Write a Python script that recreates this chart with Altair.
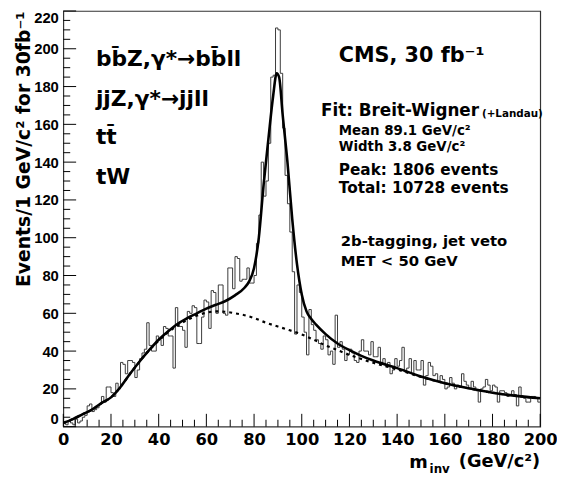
import altair as alt
import pandas as pd

# ---------------- data ----------------
edges = list(range(0, 201))  # 1 GeV bins, 0..200
counts = [
    2, 1, 3, 2, 1, 4, 2, 3, 5, 6,            # 0-9
    11, 12, 8, 9, 10, 12, 16, 13, 21, 21,    # 10-19
    18, 16, 23, 20, 34, 33, 28, 35, 35, 34,  # 20-29
    26, 30, 36, 39, 41, 55, 43, 40, 40, 48,  # 30-39
    46, 43, 53, 52, 48, 48, 31, 63, 53, 53,  # 40-49
    51, 42, 61, 60, 64, 63, 44, 44, 58, 67,  # 50-59
    66, 52, 72, 71, 60, 75, 75, 60, 59, 84,  # 60-69
    84, 73, 90, 89, 77, 78, 78, 84, 76, 76,  # 70-79
    80, 97, 112, 140, 122, 130, 150, 185, 186, 211,  # 80-89
    210, 187, 158, 133, 118, 103, 82, 49, 75, 71,    # 90-99
    58, 50, 38, 62, 54, 51, 46, 44, 41, 48,  # 100-109
    46, 38, 40, 33, 59, 42, 45, 41, 35, 38,  # 110-119
    41, 39, 35, 34, 40, 46, 40, 40, 38, 45,  # 120-129
    37, 37, 42, 34, 36, 32, 34, 28, 30, 36,  # 130-139
    32, 35, 42, 29, 31, 36, 28, 35, 30, 30,  # 140-149
    35, 22, 27, 34, 32, 27, 28, 24, 27, 25,  # 150-159
    20, 21, 26, 23, 20, 22, 21, 28, 24, 22,  # 160-169
    20, 24, 21, 19, 13, 20, 21, 25, 22, 19,  # 170-179
    22, 21, 13, 19, 19, 18, 16, 17, 19, 17,  # 180-189
    11, 21, 16, 15, 13, 13, 16, 16, 15, 13,  # 190-199
]

# fit: Breit-Wigner + Landau (solid)
fit_m = [0, 4, 8, 12, 16, 20, 24, 28, 32, 36, 40, 44, 48, 52, 56, 60, 64, 68,
         72, 76, 78, 80, 82, 84, 86, 88, 89.5, 90.5, 92, 94, 96, 98, 100, 102,
         104, 106, 110, 115, 120, 125, 130, 140, 150, 160, 170, 180, 190, 200]
fit_v = [2, 4, 6.5, 9, 12.5, 15.5, 21, 28, 34.5, 40.5, 46, 50.5, 54.5, 57.5, 60,
         62.5, 64.5, 66.5, 69.5, 73.5, 77, 84, 100, 128, 152, 175, 187, 185, 165,
         140, 110, 86, 70, 61, 57, 54, 49, 44, 40.5, 37.5, 35, 31, 26.5, 23, 20.3,
         18, 16.3, 15]

# Landau background (dashed)
bg_m = [0, 4, 8, 12, 16, 20, 24, 28, 32, 36, 40, 44, 48, 52, 56, 60, 64, 68, 72,
        76, 80, 85, 90, 95, 100, 105, 110, 115, 120, 125, 130, 140, 150, 160,
        170, 180, 190, 200]
bg_v = [2, 4, 6.5, 9, 12.5, 15.5, 21, 28, 34.5, 40.5, 45.5, 50, 53.5, 56.5, 58.8,
        60.3, 61, 60.8, 60, 59, 57.5, 55, 53, 51, 48.8, 46, 43, 40.5, 38, 35.8,
        33.8, 30.3, 26.3, 23, 20.3, 18, 16.3, 15]

x_labels = list(range(0, 201, 20))
y_labels = list(range(0, 221, 20))
x_minor = [v for v in range(0, 201, 5) if v % 20]
y_minor = [v for v in range(0, 221, 5) if v % 20]

# ---------------- layout ----------------
W, H = 483, 421
FONT = "DejaVu Sans"
REF_H = 423.0


def px(rx):
    return rx - 64


def py(ry):
    return (ry - 5) * H / REF_H


xs = alt.Scale(domain=[0, 200], nice=False, zero=False)
ys = alt.Scale(domain=[0, 220], nice=False, zero=False)

xaxis = alt.Axis(values=x_labels, labelFont=FONT, labelFontWeight="bold",
                 labelFontSize=16.5, labelColor="black", ticks=False, tickSize=0,
                 domain=False, grid=False, labelPadding=5, title=None,
                 labelFlush=False, labelOverlap=False)
yaxis = alt.Axis(values=y_labels, labelFont="Liberation Sans", labelFontWeight="bold",
                 labelFontSize=15, labelColor="black", ticks=False, tickSize=0,
                 domain=False, grid=False, labelPadding=5, labelFlush=True,
                 labelOverlap=False,
                 title="Events/1 GeV/c² for 30fb⁻¹", titleFont=FONT,
                 titleFontSize=19, titleFontWeight="bold", titleColor="black",
                 titleAngle=270, titleAlign="right", titleBaseline="alphabetic",
                 titleX=-34, titleY=0)

hist_df = pd.DataFrame({"m": edges, "n": counts + [counts[-1]]})
fit_df = pd.DataFrame({"m": fit_m, "n": fit_v})
bg_df = pd.DataFrame({"m": bg_m, "n": bg_v})


def X():
    return alt.X("m:Q", scale=xs, axis=xaxis)


def Y():
    return alt.Y("n:Q", scale=ys, axis=yaxis)


hist = alt.Chart(hist_df).mark_line(interpolate="step-after", color="#3a3a3a",
                                    strokeWidth=1).encode(x=X(), y=Y())
bg = alt.Chart(bg_df).mark_line(interpolate="monotone", color="black",
                                strokeWidth=2.2, strokeDash=[3, 4]).encode(x=X(), y=Y())
fit = alt.Chart(fit_df).mark_line(interpolate="monotone", color="black",
                                  strokeWidth=2.6).encode(x=X(), y=Y())

xt_major = alt.Chart(pd.DataFrame({"m": x_labels})).mark_rule(color="black", strokeWidth=1).encode(
    x=X(), y=alt.value(H), y2=alt.value(H - 13))
xt_minor = alt.Chart(pd.DataFrame({"m": x_minor})).mark_rule(color="black", strokeWidth=1).encode(
    x=X(), y=alt.value(H), y2=alt.value(H - 7))
yt_major = alt.Chart(pd.DataFrame({"n": y_labels})).mark_rule(color="black", strokeWidth=1).encode(
    y=Y(), x=alt.value(0), x2=alt.value(13))
yt_minor = alt.Chart(pd.DataFrame({"n": y_minor})).mark_rule(color="black", strokeWidth=1).encode(
    y=Y(), x=alt.value(0), x2=alt.value(7))


def T(text, rx, ry, size, align="left", weight="bold", font=FONT):
    return alt.Chart(alt.Data(values=[{}])).mark_text(
        text=text, align=align, baseline="alphabetic", font=font, fontSize=size,
        fontWeight=weight, color="black").encode(x=alt.value(px(rx)), y=alt.value(py(ry)))


texts = [
    T("bb\u0304Z,γ*→bb\u0304ll", 97, 60.5, 22),
    T("jjZ,γ*→jjll", 97, 101.5, 22),
    T("tt\u0304", 97, 140, 22),
    T("tW", 97, 181.5, 22),
    T("CMS, 30 fb⁻¹", 343, 57, 21),
    T("Fit: Breit-Wigner", 325, 112, 17),
    T("(+Landau)", 488, 112.5, 10.5),
    T("Mean 89.1 GeV/c²", 343, 131, 13.5),
    T("Width 3.8 GeV/c²", 343, 147, 13.5),
    T("Peak: 1806 events", 343, 172, 15.5),
    T("Total: 10728 events", 343, 190, 15.5),
    T("2b-tagging, jet veto", 345, 244, 15),
    T("MET < 50 GeV", 345, 265, 15),
    T("m", 433, 470, 18, align="right"),
    T("inv", 435, 475, 12),
    T("(GeV/c²)", 547, 469, 18, align="right"),
]

chart = alt.layer(hist, bg, fit, xt_major, xt_minor, yt_major, yt_minor, *texts).properties(
    width=W, height=H,
    padding={"left": 56, "top": 0, "right": 17, "bottom": 51},
    autosize=alt.AutoSizeParams(type="none"),
).configure_view(stroke="#333", strokeWidth=1.2)

chart.save("out.html", embed_options={"renderer": "svg", "actions": False})
